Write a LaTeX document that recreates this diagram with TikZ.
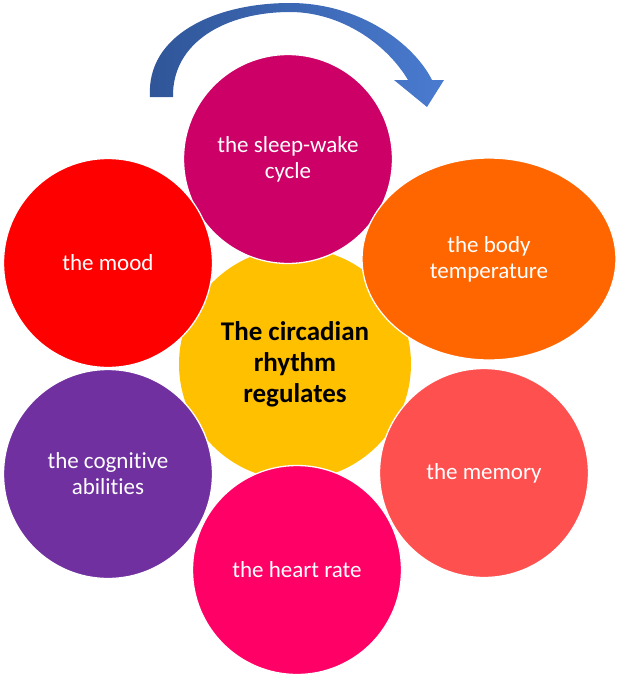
\documentclass[tikz,border=0pt]{standalone}
\usepackage{fontspec}
\setmainfont{Carlito}[Ligatures=NoCommon]
\usetikzlibrary{shapes.geometric}

\definecolor{hubcol}{HTML}{FFC000}
\definecolor{sleepcol}{HTML}{CC0066}
\definecolor{moodcol}{HTML}{FF0000}
\definecolor{tempcol}{HTML}{FF6600}
\definecolor{memorycol}{HTML}{FF5050}
\definecolor{heartcol}{HTML}{FF0066}
\definecolor{cognitivecol}{HTML}{7030A0}
\definecolor{arrowdark}{HTML}{2F5597}
\definecolor{arrowlight}{HTML}{4A7BD0}

\tikzset{
	bubble/.style={circle, draw=white, line width=1.3pt, minimum size=209pt, inner sep=0pt,
		text=white, align=center, font=\fontsize{23}{26}\selectfont},
	hub/.style={circle, minimum size=232pt, inner sep=0pt, fill=hubcol,
		align=center, font=\fontsize{27}{31}\selectfont\bfseries}
}

\begin{document}
\begin{tikzpicture}[x=1pt, y=-1pt]
			%%%%% START %%%%%
			\useasboundingbox (0, 0) rectangle (618, 675);
			
			% turning arrow above the top bubble
			\shade[left color=arrowdark, right color=arrowlight]
				(150, 97) .. controls (146, 35) and (215, 3) .. (290, 3)
				.. controls (360, 3) and (414, 44) .. (432, 80)
				-- (444, 80) -- (427, 107) -- (394, 80) -- (408, 80)
				.. controls (386, 43) and (340, 12) .. (290, 12)
				.. controls (226, 12) and (172, 42) .. (173, 97) -- cycle;
			
			\node[hub] (hub) at (295, 364) {The circadian\\rhythm\\regulates};
			
			\node[bubble, fill=sleepcol] (sleep) at (288, 159) {the sleep-wake\\cycle};
			\node[bubble, fill=moodcol] (mood) at (108, 263) {the mood};
			\node[bubble, fill=cognitivecol] (cognitive) at (108, 474) {the cognitive\\abilities};
			\node[bubble, fill=heartcol] (heart) at (297, 570) {the heart rate};
			\node[bubble, fill=memorycol] (memory) at (484, 473) {the memory};
			\node[bubble, ellipse, minimum width=254pt, minimum height=202pt, fill=tempcol] (temp) at (489, 259) {the body\\temperature};
			
			%%%%% END %%%%%
\end{tikzpicture}
\end{document}
